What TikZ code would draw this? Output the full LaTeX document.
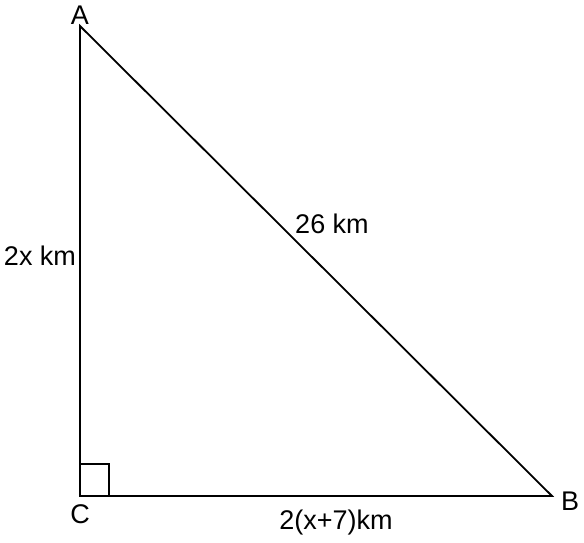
\documentclass[tikz,border=0pt]{standalone}
\usepackage{fontspec}
\setmainfont{Liberation Sans}
\begin{document}
\begin{tikzpicture}[x=1pt,y=-1pt,line width=1.8pt,
	lbl/.style={font=\fontsize{27}{31}\selectfont,inner sep=0pt}]
\useasboundingbox (0,0) rectangle (584,542);

\coordinate (A) at (80,26);
\coordinate (C) at (80,496);
\coordinate (B) at (552,496);
\draw (A) to (B) to (C) to cycle;
\draw (80,464) rectangle (109,496);

\node[lbl] (labA) at (80,15) {A};
\node[lbl] (labB) at (570,501) {B};
\node[lbl] (labC) at (80,514) {C};
\node[lbl] (ac) at (40,256) {2x km};
\node[lbl] (ab) at (332,224) {26 km};
\node[lbl] (cb) at (336,523) {2(x+7)km};

\end{tikzpicture}
\end{document}
